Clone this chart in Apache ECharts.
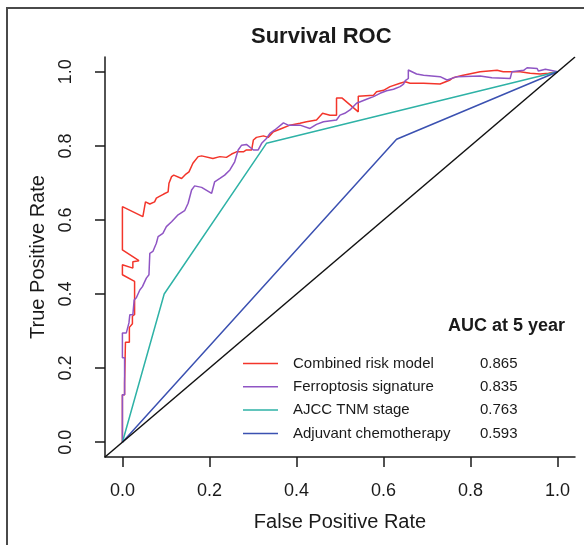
<!DOCTYPE html>
<html>
<head>
<meta charset="utf-8">
<script src="https://cdn.jsdelivr.net/npm/echarts@6/dist/echarts.min.js"></script>
<style>
  html, body { margin: 0; padding: 0; background: #fff; }
  #roc { width: 584px; height: 545px; }
</style>
</head>
<body>
<div id="roc"></div>
<script>
var dom = document.getElementById('roc');
var rocChart = echarts.init(dom, null, { renderer: 'canvas' });

// (FPR, TPR)
var combinedFpr = [0, 0, 0.005, 0.005, 0.007, 0.007, 0.016, 0.016, 0.023, 0.023, 0.028, 0.028, 0, 0, 0.024, 0.024, 0.038, 0, 0, 0.047, 0.053, 0.063, 0.074, 0.078, 0.084, 0.095, 0.105, 0.107, 0.113, 0.118, 0.136, 0.146, 0.153, 0.162, 0.174, 0.182, 0.208, 0.224, 0.239, 0.251, 0.262, 0.278, 0.285, 0.297, 0.301, 0.308, 0.324, 0.335, 0.347, 0.366, 0.385, 0.408, 0.423, 0.446, 0.460, 0.477, 0.492, 0.492, 0.505, 0.542, 0.542, 0.577, 0.584, 0.600, 0.615, 0.638, 0.650, 0.661, 0.692, 0.730, 0.753, 0.760, 0.783, 0.822, 0.861, 0.875, 0.914, 0.937, 0.960, 0.979, 1];
var combinedTpr = [0, 0.128, 0.128, 0.16, 0.16, 0.27, 0.27, 0.31, 0.32, 0.34, 0.345, 0.434, 0.452, 0.479, 0.47, 0.487, 0.49, 0.519, 0.636, 0.609, 0.649, 0.643, 0.649, 0.659, 0.663, 0.67, 0.676, 0.699, 0.717, 0.721, 0.712, 0.724, 0.730, 0.753, 0.771, 0.773, 0.766, 0.771, 0.769, 0.778, 0.784, 0.784, 0.789, 0.789, 0.816, 0.823, 0.827, 0.823, 0.838, 0.847, 0.856, 0.861, 0.865, 0.870, 0.888, 0.883, 0.883, 0.929, 0.929, 0.892, 0.934, 0.937, 0.946, 0.95, 0.960, 0.969, 0.973, 0.969, 0.969, 0.967, 0.978, 0.984, 0.991, 1.0, 1.004, 1.0, 1.0, 0.996, 0.994, 0.996, 1];

var ferroFpr = [0, 0, 0.005, 0.005, 0, 0, 0.009, 0.015, 0.017, 0.024, 0.027, 0.032, 0.040, 0.046, 0.055, 0.061, 0.063, 0.070, 0.078, 0.082, 0.093, 0.101, 0.113, 0.128, 0.143, 0.151, 0.159, 0.166, 0.182, 0.205, 0.212, 0.224, 0.235, 0.247, 0.258, 0.266, 0.274, 0.285, 0.301, 0.312, 0.320, 0.331, 0.339, 0.350, 0.370, 0.381, 0.408, 0.431, 0.446, 0.462, 0.492, 0.500, 0.511, 0.523, 0.538, 0.561, 0.577, 0.592, 0.607, 0.623, 0.638, 0.646, 0.650, 0.657, 0.657, 0.676, 0.692, 0.730, 0.746, 0.769, 0.822, 0.849, 0.891, 0.895, 0.922, 0.930, 0.953, 0.956, 0.972, 1];
var ferroTpr = [0, 0.128, 0.128, 0.228, 0.228, 0.295, 0.295, 0.322, 0.344, 0.344, 0.384, 0.39, 0.411, 0.42, 0.443, 0.452, 0.510, 0.515, 0.537, 0.555, 0.564, 0.582, 0.595, 0.614, 0.625, 0.645, 0.681, 0.692, 0.688, 0.672, 0.703, 0.712, 0.721, 0.735, 0.757, 0.789, 0.802, 0.804, 0.789, 0.789, 0.807, 0.820, 0.834, 0.843, 0.862, 0.856, 0.856, 0.847, 0.858, 0.865, 0.870, 0.883, 0.888, 0.897, 0.915, 0.926, 0.933, 0.942, 0.949, 0.953, 0.960, 0.967, 0.976, 0.982, 1.005, 0.994, 0.991, 0.987, 0.978, 0.987, 0.989, 0.984, 0.982, 1.0, 1.004, 1.011, 1.009, 1.002, 1.007, 1];

var tnmFpr = [0, 0.096, 0.331, 1];
var tnmTpr = [0, 0.40, 0.807, 1];

var chemoFpr = [0, 0.630, 1];
var chemoTpr = [0, 0.818, 1];

var refLine = [-0.04, 1.04];

var seriesNames = ['Combined risk model', 'Ferroptosis signature', 'AJCC TNM stage', 'Adjuvant chemotherapy'];
var aucValues = ['0.865', '0.835', '0.763', '0.593'];
var tickValues = [0, 0.2, 0.4, 0.6, 0.8, 1.0];

var colors = ['#f3352b', '#8f55c4', '#2eb2a6', '#3b51b1'];

function pairs(xs, ys) {
    return xs.map(function (x, i) { return [x, ys[i]]; });
}

var fontFamily = '"Liberation Sans", Arial, Helvetica, sans-serif';
var ink = '#1a1a1a';

var axisCommon = {
    type: 'value',
    min: -0.04,
    max: 1.04,
    splitLine: { show: false },
    axisLine: { show: true, onZero: false, lineStyle: { color: ink, width: 1.5 } },
    axisTick: {
        show: true,
        inside: false,
        length: 10,
        customValues: tickValues,
        lineStyle: { color: ink, width: 1.5 }
    },
    axisLabel: {
        customValues: tickValues,
        color: ink,
        fontSize: 18,
        fontFamily: fontFamily,
        formatter: function (v) { return v.toFixed(1); }
    },
    nameLocation: 'middle',
    nameTextStyle: { color: ink, fontSize: 20, fontFamily: fontFamily }
};

function curve(name, data, color) {
    return {
        name: name,
        type: 'line',
        data: data,
        showSymbol: false,
        symbol: 'none',
        lineStyle: { color: color, width: 1.5 },
        itemStyle: { color: color },
        z: 3
    };
}

var option = {
    animation: false,
    backgroundColor: '#fff',
    title: [{
        text: 'Survival ROC',
        left: 251,
        top: 26,
        padding: 0,
        textStyle: { fontSize: 22, fontWeight: 'bold', color: ink, fontFamily: fontFamily }
    }, {
        text: 'AUC at 5 year',
        right: 19,
        top: 317,
        padding: 0,
        textStyle: { fontSize: 18, fontWeight: 'bold', color: ink, fontFamily: fontFamily }
    }],
    grid: { left: 105, right: 9, top: 57, bottom: 88, containLabel: false },
    xAxis: Object.assign({}, axisCommon, {
        name: 'False Positive Rate',
        nameGap: 55,
        axisLabel: Object.assign({}, axisCommon.axisLabel, { margin: 25 })
    }),
    yAxis: Object.assign({}, axisCommon, {
        name: 'True Positive Rate',
        nameGap: 57,
        axisLabel: Object.assign({}, axisCommon.axisLabel, { margin: 30, rotate: 90 })
    }),
    legend: {
        data: seriesNames,
        orient: 'vertical',
        left: 243,
        top: 356,
        padding: 0,
        itemGap: 8.3,
        itemWidth: 35,
        itemHeight: 1.5,
        icon: 'rect',
        selectedMode: false,
        formatter: function (name) {
            return '{s| }{n|' + name + '}{v|' + aucValues[seriesNames.indexOf(name)] + '}';
        },
        textStyle: {
            color: ink,
            fontSize: 15,
            fontFamily: fontFamily,
            rich: {
                s: { width: 10 },
                n: { width: 187, fontSize: 15, fontFamily: fontFamily, color: ink },
                v: { fontSize: 15, fontFamily: fontFamily, color: ink }
            }
        }
    },
    graphic: [{
        type: 'polyline',
        shape: { points: [[7, 545], [7, 8], [584, 8]] },
        style: { stroke: '#4a4a4a', lineWidth: 2, fill: null },
        silent: true
    }],
    series: [
        curve(seriesNames[0], pairs(combinedFpr, combinedTpr), colors[0]),
        curve(seriesNames[1], pairs(ferroFpr, ferroTpr), colors[1]),
        curve(seriesNames[2], pairs(tnmFpr, tnmTpr), colors[2]),
        curve(seriesNames[3], pairs(chemoFpr, chemoTpr), colors[3]),
        {
            type: 'line',
            data: pairs(refLine, refLine),
            showSymbol: false,
            symbol: 'none',
            lineStyle: { color: '#111', width: 1.5 },
            z: 4
        }
    ]
};

if (option && typeof option === 'object') {
    rocChart.setOption(option, true);
}
</script>
</body>
</html>
